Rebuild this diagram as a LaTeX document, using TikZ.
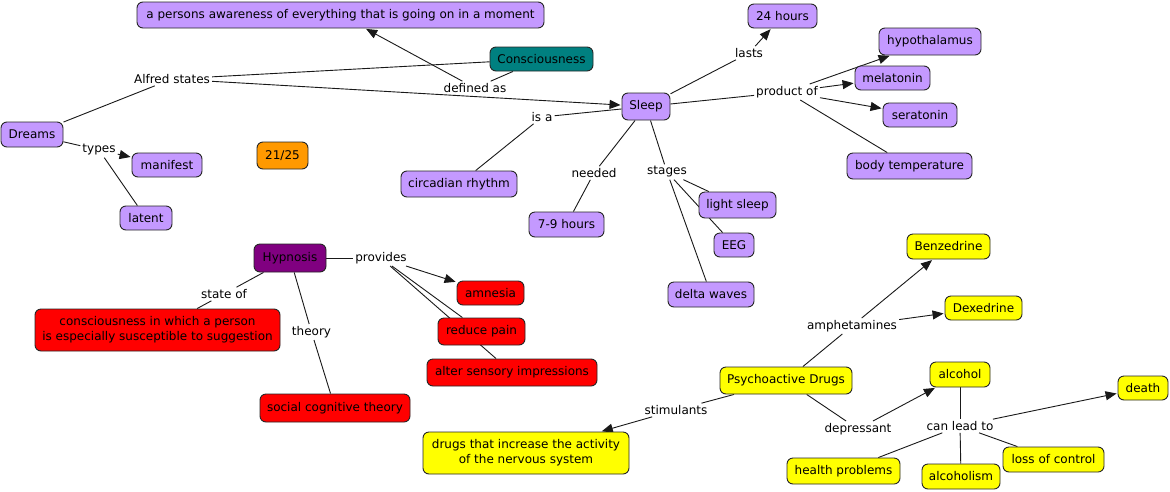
\documentclass[tikz,border=0pt]{standalone}
\usepackage{fontspec}
\setmainfont{DejaVu Sans}
\usetikzlibrary{arrows.meta,backgrounds}
\definecolor{lav}{RGB}{196,153,255}
\definecolor{tealc}{RGB}{0,128,128}
\definecolor{orangec}{RGB}{255,153,0}
\definecolor{hyp}{RGB}{128,0,128}
\definecolor{redc}{RGB}{255,0,0}
\definecolor{yelc}{RGB}{255,255,0}
\begin{document}
\begin{tikzpicture}[x=1pt,y=-1pt,
  font=\fontsize{12}{15}\selectfont,
  box/.style={draw=black!85, line width=0.9pt, rounded corners=6pt, inner sep=0pt, align=center, text=black},
  pb/.style={box, fill=lav},
  rb/.style={box, fill=redc},
  yb/.style={box, fill=yelc},
  lp/.style={inner sep=2pt, text=black},
  ln/.style={line width=0.9pt, draw=black!90},
  ar/.style={ln, -{Triangle[length=11pt,width=9pt]}, shorten >=1pt}]
\useasboundingbox (0,0) rectangle (1170,491);

% purple concepts
\node[pb, minimum width=407, minimum height=26] (aware) at (340.5,15) {a persons awareness of everything that is going on in a moment};
\node[box, fill=tealc, minimum width=103, minimum height=24] (consc) at (541.5,59) {Consciousness};
\node[pb, minimum width=69, minimum height=24] (h24) at (782.5,16) {24 hours};
\node[pb, minimum width=102, minimum height=27] (hypo) at (930,41.5) {hypothalamus};
\node[pb, minimum width=75, minimum height=24] (mela) at (892.5,78) {melatonin};
\node[pb, minimum width=74, minimum height=24] (sera) at (920,115) {seratonin};
\node[pb, minimum width=125, minimum height=26] (body) at (909.5,166) {body temperature};
\node[pb, minimum width=48, minimum height=27] (sleep) at (646,106.5) {Sleep};
\node[pb, minimum width=62, minimum height=25] (dreams) at (32,134.5) {Dreams};
\node[pb, minimum width=70, minimum height=24] (manif) at (167,165) {manifest};
\node[pb, minimum width=52, minimum height=24] (latent) at (146,218) {latent};
\node[box, fill=orangec, minimum width=51, minimum height=27] (score) at (282.5,155.5) {21/25};
\node[pb, minimum width=116, minimum height=26] (circ) at (459,184) {circadian rhythm};
\node[pb, minimum width=75, minimum height=25] (h79) at (566.5,224.5) {7-9 hours};
\node[pb, minimum width=77, minimum height=26] (light) at (737.5,205) {light sleep};
\node[pb, minimum width=40, minimum height=24] (eeg) at (734,245) {EEG};
\node[pb, minimum width=86, minimum height=25] (delta) at (711,294.5) {delta waves};

% hypnosis group
\node[box, fill=hyp, minimum width=72, minimum height=28] (hypn) at (290,258) {Hypnosis};
\node[rb, minimum width=245, minimum height=42] (susc) at (157.5,330) {consciousness in which a person\\is especially susceptible to suggestion};
\node[rb, minimum width=67, minimum height=24] (amn) at (490.5,293) {amnesia};
\node[rb, minimum width=87, minimum height=27] (pain) at (481.5,331.5) {reduce pain};
\node[rb, minimum width=170, minimum height=27] (alter) at (512,372.5) {alter sensory impressions};
\node[rb, minimum width=150, minimum height=28] (social) at (335,408) {social cognitive theory};

% drugs group
\node[yb, minimum width=206, minimum height=42] (incr) at (526,453) {drugs that increase the activity\\of the nervous system};
\node[yb, minimum width=132, minimum height=27] (psy) at (786,380.5) {Psychoactive Drugs};
\node[yb, minimum width=83, minimum height=25] (benz) at (948.5,246.5) {Benzedrine};
\node[yb, minimum width=77, minimum height=24] (dex) at (983.5,308) {Dexedrine};
\node[yb, minimum width=60, minimum height=25] (alc) at (960,374.5) {alcohol};
\node[yb, minimum width=50, minimum height=24] (death) at (1143,388) {death};
\node[yb, minimum width=113, minimum height=26] (health) at (843.5,471) {health problems};
\node[yb, minimum width=78, minimum height=25] (alcism) at (961,476.5) {alcoholism};
\node[yb, minimum width=101, minimum height=25] (loss) at (1053.5,459.5) {loss of control};

% linking phrases
\node[lp] (alfred) at (172,79) {Alfred states};
\node[lp] (defas) at (475,88) {defined as};
\node[lp] (lasts) at (749,53) {lasts};
\node[lp] (prod) at (787,92) {product of};
\node[lp] (isa) at (542,117) {is a};
\node[lp] (needed) at (594,173) {needed};
\node[lp] (stages) at (667,172) {stages};
\node[lp] (types) at (99,150) {types};
\node[lp] (prov) at (381,258) {provides};
\node[lp] (stof) at (224,294) {state of};
\node[lp] (theory) at (311.5,332) {theory};
\node[lp] (amph) at (852,326) {amphetamines};
\node[lp] (stim) at (676,410) {stimulants};
\node[lp] (depr) at (858,429) {depressant};
\node[lp] (canl) at (960,426) {can lead to};

\begin{pgfonlayer}{background}
\fill[white] (0,0) rectangle (1170,491);
\draw[ln] (dreams) -- (alfred);
\draw[ln] (alfred) -- (consc);
\draw[ar] (alfred) -- (sleep);
\draw[ln] (consc) -- (defas);
\draw[ar] (defas) -- (aware);
\draw[ln] (sleep) -- (lasts);
\draw[ar] (lasts) -- (h24);
\draw[ln] (sleep) -- (prod);
\draw[ar] (prod) -- (hypo);
\draw[ar] (prod) -- (mela);
\draw[ar] (prod) -- (sera);
\draw[ln] (prod) -- (body);
\draw[ln] (sleep) -- (isa);
\draw[ln] (isa) -- (circ);
\draw[ln] (sleep) -- (needed);
\draw[ln] (needed) -- (h79);
\draw[ln] (sleep) -- (stages);
\draw[ln] (stages) -- (light);
\draw[ln] (stages) -- (eeg);
\draw[ln] (stages) -- (delta);
\draw[ln] (dreams) -- (types);
\draw[ar] (types) -- (manif);
\draw[ln] (types) -- (latent);
\draw[ln] (hypn) -- (prov);
\draw[ar] (prov) -- (amn);
\draw[ln] (prov) -- (pain);
\draw[ln] (prov) -- (alter);
\draw[ln] (hypn) -- (stof);
\draw[ln] (stof) -- (susc);
\draw[ln] (hypn) -- (theory);
\draw[ln] (theory) -- (social);
\draw[ln] (psy) -- (amph);
\draw[ar] (amph) -- (benz);
\draw[ar] (amph) -- (dex);
\draw[ln] (psy) -- (stim);
\draw[ar] (stim) -- (incr);
\draw[ln] (psy) -- (depr);
\draw[ar] (depr) -- (alc);
\draw[ln] (alc) -- (canl);
\draw[ar] (canl) -- (death);
\draw[ln] (canl) -- (health);
\draw[ln] (canl) -- (alcism);
\draw[ln] (canl) -- (loss);
\end{pgfonlayer}
\end{tikzpicture}
\end{document}
